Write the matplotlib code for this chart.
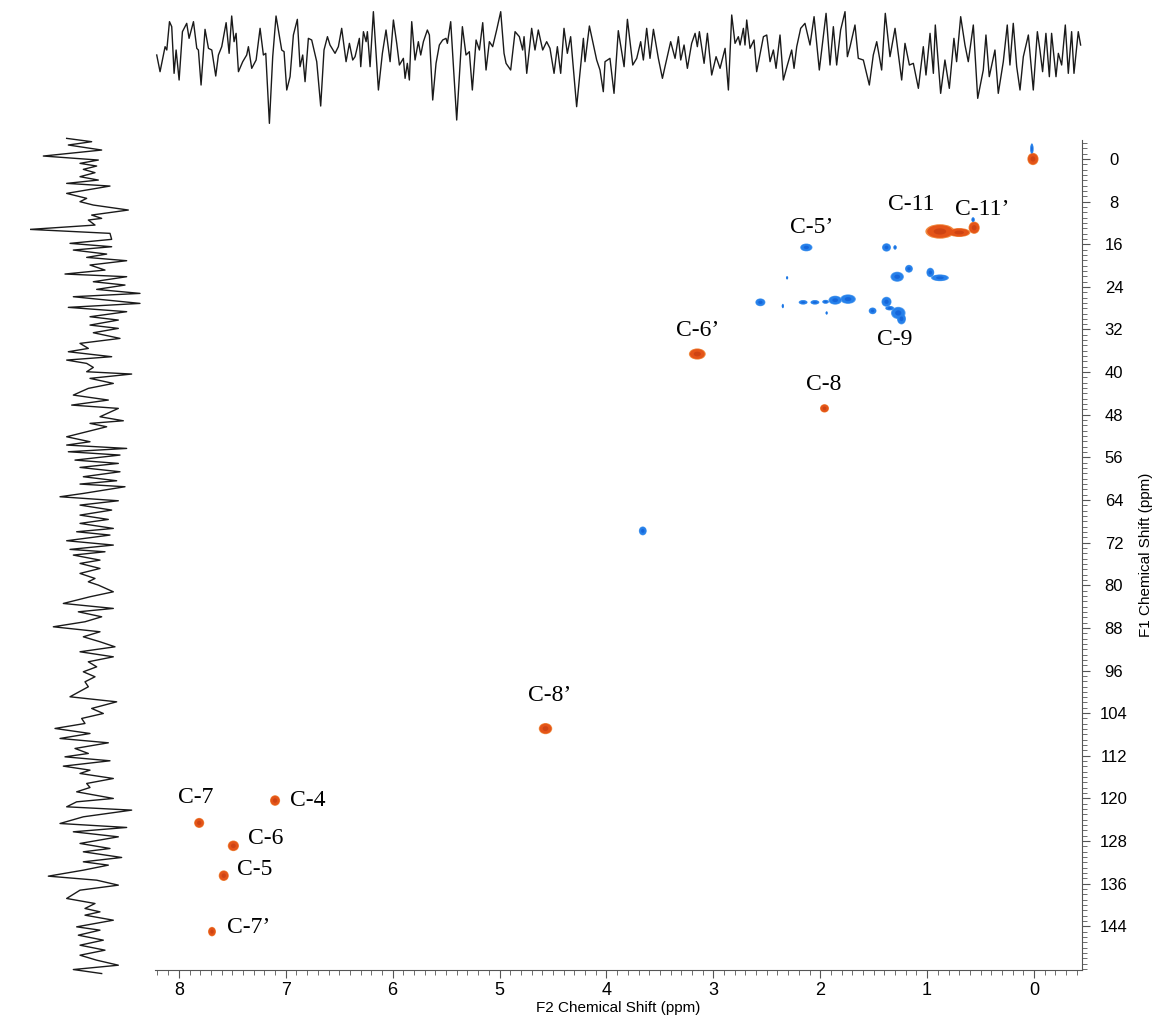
import numpy as np
import matplotlib
matplotlib.use("Agg")
import matplotlib.pyplot as plt
from matplotlib.patches import Ellipse
from matplotlib.ticker import MultipleLocator

# --- cross peaks (F2 ppm, F1 ppm, width F2, width F1) ---
red_f2 = [0.01, 0.88, 0.70, 0.56, 3.15, 1.96, 4.57, 7.10, 7.81, 7.49, 7.58, 7.69]
red_f1 = [0.0, 13.6, 13.8, 12.9, 36.6, 46.8, 106.9, 120.4, 124.6, 128.9, 134.5, 145.0]
red_w2 = [0.10, 0.26, 0.20, 0.10, 0.15, 0.08, 0.12, 0.09, 0.09, 0.10, 0.09, 0.07]
red_w1 = [2.2, 2.6, 1.6, 2.2, 2.0, 1.5, 2.0, 1.9, 1.8, 1.9, 1.9, 1.7]

blue_f2 = [0.02, 0.57, 2.13, 1.38, 1.30, 1.17, 1.28, 0.97, 0.88, 2.56, 2.35, 2.16, 2.05,
           1.95, 1.86, 1.74, 1.38, 1.51, 1.27, 1.24, 1.35, 3.66, 2.31, 1.94]
blue_f1 = [-1.9, 11.4, 16.6, 16.6, 16.6, 20.6, 22.1, 21.3, 22.3, 26.9, 27.6, 26.9, 26.9,
           26.8, 26.5, 26.3, 26.8, 28.5, 28.9, 30.0, 28.0, 69.8, 22.3, 28.9]
blue_w2 = [0.03, 0.03, 0.11, 0.08, 0.03, 0.07, 0.12, 0.07, 0.16, 0.09, 0.02, 0.08, 0.08,
           0.06, 0.12, 0.14, 0.09, 0.07, 0.13, 0.08, 0.08, 0.07, 0.02, 0.02]
blue_w1 = [2.0, 0.9, 1.4, 1.5, 0.8, 1.4, 1.8, 1.7, 1.2, 1.4, 0.8, 0.8, 0.8,
           0.7, 1.6, 1.7, 1.8, 1.2, 2.2, 2.0, 0.8, 1.6, 0.6, 0.6]

# --- labels ---
lab_text = ["C-5\u2019", "C-11", "C-11\u2019", "C-9", "C-6\u2019", "C-8", "C-8\u2019",
            "C-7", "C-4", "C-6", "C-5", "C-7\u2019"]
lab_f2 = [2.28, 1.37, 0.74, 1.47, 3.35, 2.13, 4.73, 8.01, 6.96, 7.35, 7.46, 7.55]
lab_f1 = [12.8, 8.6, 9.4, 33.8, 32.1, 42.4, 100.6, 119.9, 120.3, 127.5, 133.4, 144.3]

# --- top projection (F2 ppm, intensity) ---
top_ppm = [8.201, 8.170, 8.123, 8.107, 8.082, 8.061, 8.039, 8.020, 7.992, 7.961, 7.921, 7.899,
           7.858, 7.827, 7.812, 7.787, 7.750, 7.718, 7.687, 7.650, 7.625, 7.594, 7.553, 7.525,
           7.501, 7.479, 7.460, 7.438, 7.398, 7.361, 7.345, 7.314, 7.273, 7.236, 7.205, 7.183,
           7.149, 7.118, 7.087, 7.034, 7.012, 6.987, 6.956, 6.925, 6.888, 6.863, 6.838, 6.816,
           6.785, 6.754, 6.707, 6.670, 6.639, 6.607, 6.583, 6.536, 6.505, 6.474, 6.433, 6.402,
           6.371, 6.349, 6.309, 6.296, 6.271, 6.246, 6.234, 6.209, 6.178, 6.131, 6.094, 6.060,
           6.022, 5.991, 5.960, 5.935, 5.898, 5.882, 5.861, 5.842, 5.820, 5.789, 5.758, 5.736,
           5.711, 5.674, 5.655, 5.624, 5.593, 5.562, 5.531, 5.500, 5.487, 5.456, 5.400, 5.347,
           5.313, 5.282, 5.254, 5.219, 5.188, 5.157, 5.126, 5.095, 5.064, 5.027, 4.989, 4.958,
           4.939, 4.896, 4.855, 4.815, 4.784, 4.771, 4.746, 4.700, 4.669, 4.638, 4.597, 4.560,
           4.529, 4.491, 4.460, 4.429, 4.398, 4.367, 4.336, 4.280, 4.217, 4.202, 4.161, 4.093,
           4.062, 4.031, 4.015, 3.969, 3.931, 3.891,
           3.837, 3.806, 3.756, 3.719, 3.682, 3.657, 3.626, 3.595, 3.563, 3.517, 3.479, 3.455,
           3.402, 3.361, 3.330, 3.308, 3.277, 3.246, 3.206, 3.174, 3.153, 3.134, 3.090, 3.059,
           3.019, 2.978, 2.941, 2.894, 2.863, 2.832, 2.801, 2.770, 2.754, 2.723, 2.708, 2.692,
           2.661, 2.624, 2.599, 2.536, 2.505, 2.474, 2.443, 2.418, 2.381, 2.350, 2.312, 2.272,
           2.250, 2.225, 2.188, 2.148, 2.101, 2.063, 2.014, 1.951, 1.914, 1.883, 1.852, 1.815,
           1.774, 1.752, 1.727, 1.681, 1.650, 1.603, 1.547, 1.510, 1.478, 1.432, 1.398, 1.354,
           1.307, 1.245, 1.214, 1.173, 1.136, 1.089, 1.043, 1.018, 0.980, 0.949, 0.931, 0.881,
           0.841, 0.800, 0.757, 0.732, 0.694, 0.654, 0.623, 0.576, 0.535, 0.483, 0.458, 0.427,
           0.374, 0.343, 0.296, 0.259, 0.234, 0.203, 0.171, 0.140, 0.109, 0.062, 0.016, -0.022,
           -0.046, -0.071, -0.102, -0.134, -0.155, -0.196, -0.218, -0.249, -0.283, -0.311,
           -0.342, -0.364, -0.404, -0.426]
top_int = [23.5, 18.5, 26.0, 25.0, 33.5, 32.0, 18.0, 25.0, 16.0, 30.5, 33.0, 28.5,
           33.5, 25.5, 25.0, 14.5, 31.2, 25.5, 25.0, 17.2, 23.5, 26.0, 33.2, 24.0,
           35.2, 27.5, 30.0, 18.5, 21.5, 23.5, 26.0, 19.5, 22.0, 31.5, 23.5, 24.0,
           3.0, 23.0, 35.2, 25.0, 24.5, 13.0, 17.0, 29.5, 34.2, 20.0, 23.5, 15.5,
           28.5, 28.0, 21.5, 8.2, 25.0, 29.0, 26.5, 24.0, 26.0, 31.5, 21.5, 27.0,
           22.0, 23.0, 28.5, 20.0, 30.5, 27.5, 30.5, 20.0, 36.5, 13.0, 24.0, 31.0,
           21.5, 34.0, 27.0, 20.5, 22.5, 16.5, 21.0, 16.0, 33.5, 22.0, 27.5, 23.5,
           27.5, 31.0, 29.5, 10.0, 21.0, 26.5, 28.0, 28.5, 27.0, 33.5, 4.0, 32.0,
           23.5, 24.5, 13.0, 28.0, 25.0, 33.2, 19.0, 27.5, 26.0, 31.0, 36.5, 24.0,
           21.0, 19.0, 30.5, 29.0, 25.0, 29.0, 18.0, 31.5, 25.0, 31.0, 25.0, 27.5,
           25.5, 18.0, 26.0, 18.0, 31.5, 24.0, 29.0, 8.0, 28.5, 21.5, 32.2, 22.0,
           19.0, 12.5, 21.5, 22.5, 12.0, 30.8,
           20.0, 34.2, 20.5, 22.5, 27.5, 22.0, 31.5, 22.5, 31.2, 22.5, 16.5, 20.0,
           27.5, 22.5, 29.0, 22.0, 26.5, 19.5, 27.0, 30.0, 26.0, 30.5, 21.0, 30.0,
           17.5, 23.0, 19.5, 25.5, 13.0, 35.5, 27.0, 29.0, 26.5, 31.5, 26.5, 34.0,
           25.5, 28.0, 18.5, 29.0, 29.5, 21.5, 25.0, 19.5, 29.5, 16.0, 20.5, 25.0,
           19.5, 26.0, 31.5, 33.0, 26.5, 35.0, 19.0, 36.0, 20.5, 32.0, 20.5, 31.0,
           36.5, 23.0, 26.0, 32.5, 22.5, 22.0, 14.5, 23.5, 27.5, 19.0, 36.0, 23.0,
           31.5, 16.0, 27.0, 20.5, 21.0, 13.5, 26.0, 17.5, 30.0, 18.0, 32.5, 12.0,
           22.0, 13.5, 28.5, 21.5, 35.0, 26.5, 21.5, 32.5, 10.5, 19.0, 29.5, 17.0,
           25.0, 12.0, 21.5, 32.5, 20.5, 33.0, 20.0, 13.0, 23.0, 29.5, 13.0, 30.5,
           25.0, 18.5, 30.0, 17.0, 30.0, 17.0, 24.0, 20.5, 32.5, 18.0,
           30.5, 18.0, 30.5, 26.5]

# --- left projection (F1 ppm, intensity) ---
left_ppm = [-3.67, -3.05, -2.43, -1.49, -0.37, 0.38, 1.00, 1.50, 2.12, 2.74, 3.49, 4.12,
            4.74, 5.24, 6.61, 7.54, 8.16, 8.79, 9.72, 10.66, 11.28, 11.59, 12.53, 13.34,
            14.08, 15.20, 15.95, 16.58, 17.20, 17.95, 18.57, 19.19, 20.00, 20.94, 21.68, 22.18,
            23.12, 23.74, 24.55, 25.30, 25.92, 27.17, 27.91, 28.72, 29.66, 30.28, 31.22, 31.84,
            32.65, 33.71, 34.64, 35.58, 36.20, 37.13, 37.76, 38.38, 39.13, 39.94, 40.37, 41.18,
            42.12, 43.05, 44.30, 45.23, 46.17, 46.79, 48.35, 49.10, 49.59, 50.22, 52.09, 53.02,
            53.64, 54.27, 54.89, 55.51, 56.45, 57.07, 57.82, 58.63, 59.56, 60.31, 60.93, 61.43,
            62.68, 63.30, 64.05, 64.86, 65.79, 66.73, 67.54, 68.28, 69.22, 69.84, 70.46, 71.52,
            72.33, 73.14, 73.58, 74.20, 75.14,
            75.76, 76.70, 77.63, 78.57, 79.19, 79.81, 81.06, 81.99, 83.24, 84.17, 84.80, 85.73,
            86.66, 87.60, 88.53, 89.47, 90.40, 91.34, 92.27, 93.21, 94.14, 95.08, 96.01, 96.94,
            97.88, 98.81, 100.68, 101.62, 102.86, 103.80, 104.73, 105.67, 106.60, 107.54, 108.47,
            109.28, 110.34, 111.27, 111.90, 112.64, 113.64, 114.39, 115.01, 115.95, 116.88,
            117.63, 118.44, 119.68, 120.31, 121.24, 121.86, 123.11, 124.36, 125.10, 125.91,
            126.85, 128.09, 129.03, 129.65, 130.71, 131.52, 132.14, 133.08, 134.20, 134.95,
            135.88, 136.82, 138.37, 139.31, 140.24, 140.87, 141.49, 142.43, 143.67, 144.29,
            145.23, 146.16, 147.10, 148.03, 148.97, 149.90, 150.84, 151.65, 152.40]
left_int = [11.0, 18.5, 11.5, 21.5, 4.0, 20.5, 15.0, 20.0, 16.0, 19.5, 15.0, 20.5,
            11.0, 24.0, 11.0, 17.0, 15.0, 19.0, 29.5, 18.5, 21.5, 17.5, 19.5, 0.0,
            24.0, 24.5, 12.0, 24.5, 13.0, 23.0, 17.0, 29.0, 18.0, 22.5, 10.5, 29.0,
            19.0, 28.5, 20.0, 33.0, 13.0, 33.0, 11.5, 29.0, 18.0, 26.5, 18.0, 26.5,
            19.0, 27.0, 15.0, 17.5, 11.5, 24.5, 11.0, 17.0, 19.0, 17.0, 30.5, 18.0,
            25.0, 17.5, 13.0, 23.5, 12.5, 26.5, 21.0, 28.0, 18.0, 23.0, 11.0, 18.0,
            11.0, 29.0, 11.5, 27.0, 13.5, 26.5, 15.0, 27.0, 16.0, 26.0, 15.0, 28.5,
            16.0, 9.0, 26.5, 15.0, 24.5, 15.0, 23.5, 15.0, 25.0, 14.0, 24.0, 11.0,
            25.0, 12.0, 22.5, 13.0, 21.0,
            15.0, 21.0, 15.0, 19.5, 17.5, 20.5, 25.0, 18.0, 10.0, 25.0, 14.5, 21.5,
            16.5, 7.0, 21.0, 16.0, 21.0, 25.5, 15.0, 25.0, 17.5, 20.0, 16.0, 19.5,
            16.5, 17.5, 12.0, 26.0, 18.5, 22.0, 15.5, 16.5, 7.5, 18.0, 9.0,
            23.5, 13.5, 17.5, 10.5, 24.0, 10.0, 18.0, 15.0, 25.0, 17.0,
            18.0, 14.0, 25.0, 14.0, 11.0, 30.5, 16.0, 9.0, 29.0, 13.0,
            26.5, 15.0, 24.0, 16.0, 27.5, 16.0, 23.5, 16.0, 5.5, 20.0,
            26.5, 15.0, 11.0, 19.5, 16.5, 21.0, 16.5, 25.0, 14.0, 21.0,
            14.5, 22.0, 15.0, 22.5, 15.0, 20.0, 26.5, 13.0, 21.5]

x_ticks = [8, 7, 6, 5, 4, 3, 2, 1, 0]
y_ticks = list(range(0, 145, 8))

fig = plt.figure(figsize=(11.56, 10.19), dpi=100)

# main 2D plot
ax = fig.add_axes([0.1341, 0.0481, 0.8019, 0.8145])
ax.set_xlim(8.223, -0.449)
ax.set_ylim(152.2, -3.56)

def draw_peaks(f2, f1, w2, w1, c_edge, c_mid, c_core):
    # ellipse blobs, a soft rim, a solid body and a darker centre
    for x, y, a, b in zip(f2, f1, w2, w1):
        ax.add_patch(Ellipse((x, y), a * 1.05, b * 1.05, facecolor=c_edge, edgecolor="none", zorder=2))
        ax.add_patch(Ellipse((x, y), a * 0.92, b * 0.92, facecolor=c_mid, edgecolor="none", zorder=3))
        ax.add_patch(Ellipse((x, y), a * 0.45, b * 0.45, facecolor=c_core, edgecolor="none",
                             alpha=0.6, zorder=4))

draw_peaks(blue_f2, blue_f1, blue_w2, blue_w1, "#5aa2f0", "#2680ea", "#0b56d0")
draw_peaks(red_f2, red_f1, red_w2, red_w1, "#f08a40", "#e45418", "#c03a10")

for t, x, y in zip(lab_text, lab_f2, lab_f1):
    ax.text(x, y, t, ha="left", va="center", fontsize=17, family="Liberation Serif", zorder=5)

ax.spines["top"].set_visible(False)
ax.spines["left"].set_visible(False)
ax.spines["bottom"].set_color("#555555")
ax.spines["right"].set_color("#555555")
ax.yaxis.tick_right()
ax.yaxis.set_label_position("right")
ax.set_xticks(x_ticks)
ax.set_yticks(y_ticks)
ax.xaxis.set_minor_locator(MultipleLocator(0.1))
ax.yaxis.set_minor_locator(MultipleLocator(1))
ax.tick_params(axis="x", which="major", length=6, width=0.8, color="#555555", labelsize=13, pad=3)
ax.tick_params(axis="x", which="minor", length=3.5, width=0.6, color="#555555")
ax.tick_params(axis="y", which="major", length=6, width=0.8, color="#555555", labelsize=12, pad=17)
ax.tick_params(axis="y", which="minor", length=3.5, width=0.6, color="#555555")
for lab in ax.get_xticklabels() + ax.get_yticklabels():
    lab.set_family("Liberation Sans")
for lab in ax.get_yticklabels():
    lab.set_ha("center")
ax.set_xlabel("F2 Chemical Shift (ppm)", fontsize=11, family="Liberation Sans", labelpad=1)
ax.set_ylabel("F1 Chemical Shift (ppm)", fontsize=11, family="Liberation Sans", labelpad=8)

# top projection
axt = fig.add_axes([0.1341, 0.8724, 0.8019, 0.1276])
axt.plot(top_ppm, top_int, color="#1a1a1a", lw=1.0)
axt.set_xlim(8.217, -0.439)
axt.set_ylim(1, 40)
axt.axis("off")

# left projection
axl = fig.add_axes([0.02595, 0.0383, 0.1038, 0.8341])
axl.plot(left_int, left_ppm, color="#1a1a1a", lw=1.0)
axl.set_xlim(0, 36)
axl.set_ylim(153.6, -5.23)
axl.axis("off")

fig.savefig("out.png", dpi=100)
